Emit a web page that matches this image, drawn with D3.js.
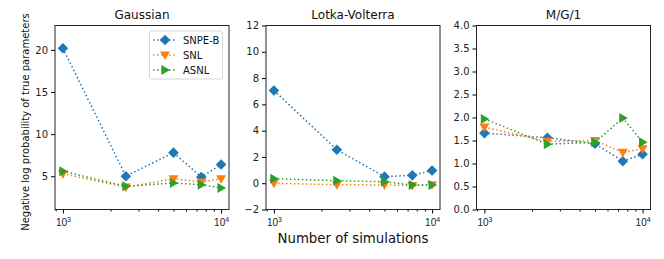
<!DOCTYPE html>
<html>
<head>
<meta charset="utf-8">
<script src="https://cdn.jsdelivr.net/npm/d3@7"></script>
<style>
  body { margin: 0; background: #fff; }
  svg { display: block; font-family: "DejaVu Sans", sans-serif; }
</style>
</head>
<body>
<div id="chart"></div>
<script>
// Data
const simulations = [1000, 2500, 5000, 7500, 10000];
const methods = ["SNPE-B", "SNL", "ASNL"];
const colors = ["#1f77b4", "#ff7f0e", "#2ca02c"];
const markers = ["diamond", "down", "right"];

const gaussian = {
  "SNPE-B": [20.2, 5.0, 7.8, 4.9, 6.4],
  "SNL": [5.3, 3.7, 4.7, 4.3, 4.7],
  "ASNL": [5.6, 3.8, 4.2, 4.0, 3.6]
};
const lotkaVolterra = {
  "SNPE-B": [7.06, 2.55, 0.5, 0.6, 0.97],
  "SNL": [0.0, -0.12, -0.13, -0.18, -0.12],
  "ASNL": [0.34, 0.19, 0.11, -0.14, -0.14]
};
const mg1 = {
  "SNPE-B": [1.66, 1.56, 1.43, 1.05, 1.2],
  "SNL": [1.79, 1.48, 1.5, 1.24, 1.32],
  "ASNL": [1.97, 1.42, 1.46, 1.99, 1.46]
};

const gaussianTicks = [5, 10, 15, 20];
const lotkaTicks = [-2, 0, 2, 4, 6, 8, 10, 12];
const mg1Ticks = [0, 0.5, 1, 1.5, 2, 2.5, 3, 3.5, 4];

const panels = [
  { title: "Gaussian", data: gaussian, yDomain: [1.05, 22.9], ticks: gaussianTicks, fmt: d3.format("d"), left: 55 },
  { title: "Lotka-Volterra", data: lotkaVolterra, yDomain: [-2, 12], ticks: lotkaTicks, fmt: d => d3.format("d")(d).replace("-", "\u2212"), left: 266 },
  { title: "M/G/1", data: mg1, yDomain: [0, 4], ticks: mg1Ticks, fmt: d3.format(".1f"), left: 476.5 }
];

let chart = {
  width: 664,
  height: 259,
  top: 25.5,
  bottom: 209.5,
  panelWidth: 174
};

let svg = d3.select("#chart").append("svg")
  .attr("width", chart.width)
  .attr("height", chart.height);

// Marker shapes in pixels
let markerPath = (type) => {
  if (type === "diamond") return "M0,-5.3L5.3,0L0,5.3L-5.3,0Z";
  if (type === "down") return "M-5,-3.6L5,-3.6L0,5Z";
  return "M-3.6,-5L5,0L-3.6,5Z";
};

let drawPanel = (p) => {
  let x = d3.scaleLog()
    .domain([Math.pow(10, 2.95), Math.pow(10, 4.05)])
    .range([p.left, p.left + chart.panelWidth]);
  let y = d3.scaleLinear()
    .domain(p.yDomain)
    .range([chart.bottom, chart.top]);

  let g = svg.append("g");

  // Y axis
  let yAxis = d3.axisLeft(y).tickValues(p.ticks).tickFormat(p.fmt).tickSize(4).tickPadding(3);
  g.append("g")
    .attr("transform", `translate(${p.left},0)`)
    .call(yAxis)
    .call(s => s.select(".domain").remove())
    .call(s => s.selectAll("text").attr("font-size", 10).attr("fill", "#222").style("font-family", "DejaVu Sans"));

  // X axis: minor ticks
  let minor = [];
  [100, 1000, 10000].forEach(b => {
    for (let k = 2; k <= 9; k++) {
      let v = b * k;
      if (v > x.domain()[0] && v < x.domain()[1]) minor.push(v);
    }
  });
  g.append("g")
    .attr("transform", `translate(0,${chart.bottom})`)
    .call(d3.axisBottom(x).tickValues(minor).tickFormat("").tickSize(2))
    .call(s => s.select(".domain").remove());

  // X axis: major ticks with 10^n labels
  let major = g.append("g")
    .attr("transform", `translate(0,${chart.bottom})`)
    .call(d3.axisBottom(x).tickValues([1000, 10000]).tickFormat("").tickSize(4))
    .call(s => s.select(".domain").remove());
  major.selectAll(".tick").append("text")
    .attr("y", 16.5)
    .attr("text-anchor", "middle")
    .attr("fill", "#222")
    .attr("font-size", 10)
    .each(function (d) {
      let t = d3.select(this);
      t.append("tspan").text("10");
      t.append("tspan").attr("font-size", 7).attr("dy", -4.5).text(Math.round(Math.log10(d)));
    });

  // Series
  methods.forEach((m, i) => {
    let vals = p.data[m];
    let pts = simulations.map((s, j) => [x(s), y(vals[j])]);
    g.append("path")
      .attr("d", d3.line()(pts))
      .attr("fill", "none")
      .attr("stroke", colors[i])
      .attr("stroke-width", 1.5)
      .attr("stroke-dasharray", "1.5,2.5");
    g.selectAll(null).data(pts).enter()
      .append("path")
      .attr("transform", d => `translate(${d[0]},${d[1]})`)
      .attr("d", markerPath(markers[i]))
      .attr("fill", colors[i]);
  });

  // Frame
  g.append("rect")
    .attr("x", p.left)
    .attr("y", chart.top)
    .attr("width", chart.panelWidth)
    .attr("height", chart.bottom - chart.top)
    .attr("fill", "none")
    .attr("stroke", "#222")
    .attr("stroke-width", 1);

  // Title
  g.append("text")
    .attr("x", p.left + chart.panelWidth / 2)
    .attr("y", 19)
    .attr("text-anchor", "middle")
    .attr("font-size", 12)
    .attr("fill", "#111")
    .text(p.title);
};

panels.forEach(drawPanel);

// Legend in first panel
let legend = svg.append("g");
legend.append("rect")
  .attr("x", 149.5).attr("y", 31)
  .attr("width", 73).attr("height", 48)
  .attr("rx", 2)
  .attr("fill", "#fff")
  .attr("fill-opacity", 0.8)
  .attr("stroke", "#d6d6d6");
methods.forEach((m, i) => {
  let ly = 40 + i * 15;
  legend.append("line")
    .attr("x1", 153).attr("x2", 177)
    .attr("y1", ly).attr("y2", ly)
    .attr("stroke", colors[i])
    .attr("stroke-width", 1.5)
    .attr("stroke-dasharray", "1.5,2.5");
  legend.append("path")
    .attr("transform", `translate(165,${ly})`)
    .attr("d", markerPath(markers[i]))
    .attr("fill", colors[i]);
  legend.append("text")
    .attr("x", 183).attr("y", ly + 3.6)
    .attr("font-size", 10)
    .attr("fill", "#111")
    .text(m);
});

// Axis titles
svg.append("text")
  .attr("transform", "translate(29,122) rotate(-90)")
  .attr("text-anchor", "middle")
  .attr("font-size", 10)
  .attr("fill", "#111")
  .text("Negative log probability of true parameters");

svg.append("text")
  .attr("x", 353)
  .attr("y", 243)
  .attr("text-anchor", "middle")
  .attr("font-size", 13.3)
  .attr("fill", "#111")
  .text("Number of simulations");
</script>
</body>
</html>
